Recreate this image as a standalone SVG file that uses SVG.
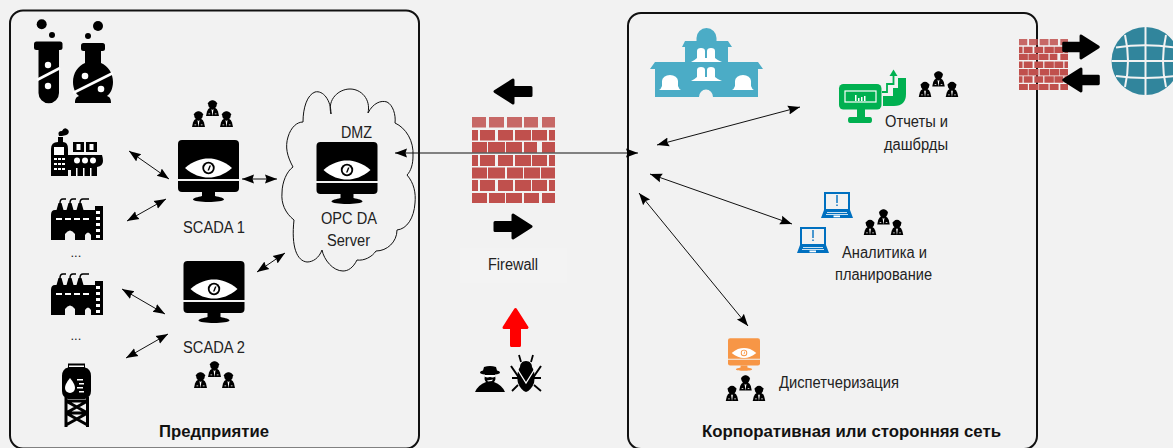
<svg xmlns="http://www.w3.org/2000/svg" width="1173" height="448" viewBox="0 0 1173 448">
<style>
text{font-family:"Liberation Sans",Arial,sans-serif;font-size:16px;fill:#222}
text.b{font-weight:bold;font-size:17px;fill:#111}
.panel{fill:#f2f2f2;stroke:#111;stroke-width:2}
.conn line{stroke:#111;stroke-width:1;marker-start:url(#h);marker-end:url(#h)}
.brick{fill:#c0504d}
.w{fill:#fff}
.ws{fill:none;stroke:#fff}
</style>
<defs>
<marker id="h" markerUnits="userSpaceOnUse" markerWidth="14" markerHeight="12" refX="12" refY="5" orient="auto-start-reverse" viewBox="0 0 14 10">
<path d="M0,0.500L12,5L0,9.500L1.500,5Z" fill="#000"/>
</marker>
<symbol id="monitor" viewBox="0 0 61 62" overflow="visible">
<path d="M4,0H57a4,4 0 0 1 4,4V39H0V4A4,4 0 0 1 4,0Z"/>
<path d="M0,41H61V48a4,4 0 0 1 -4,4H4a4,4 0 0 1 -4,-4Z"/>
<path d="M24,52H37V56C42,57 46,58 46,59.500C46,61 38,62 30.500,62C23,62 15,61 15,59.500C15,58 20,57 24,56Z"/>
<path class="w" d="M7,28C15,21 23,18.500 30.500,18.500C38,18.500 46,21 54,28C46,35 38,37.500 30.500,37.500C23,37.500 15,35 7,28Z"/>
<circle cx="30.500" cy="28" r="6.200"/><circle class="w" cx="30.500" cy="28" r="4.400"/>
<path d="M31.500,25.500L29.500,30.500L31,30.500L33,25.500Z"/>
</symbol>
<symbol id="person" viewBox="0 0 13 16" overflow="visible">
<circle cx="6.500" cy="4.500" r="4.300"/><path d="M1.800,3Q6.500,-1.300 11.200,3L11.200,4H1.800Z"/>
<path d="M0,16L1,11.500Q1.800,8.500 4.500,7.500H8.500Q11.200,8.500 12,11.500L13,16Z"/>
<path class="w" d="M5.500,9L6.500,16L7.500,9L6.500,10Z"/>
<path class="w" d="M2.500,13.500H4.200V14.300H2.500ZM8.800,13.500H10.500V14.300H8.800Z"/>
</symbol>
<symbol id="people" viewBox="0 0 41 27" overflow="visible">
<use href="#person" x="0" y="11" width="13" height="16"/>
<use href="#person" x="14" y="0" width="13" height="16"/>
<use href="#person" x="28" y="11" width="13" height="16"/>
</symbol>
<symbol id="wall" viewBox="0 0 83 86" overflow="visible">
<path class="brick" d="M0,0h14v10.500h-14zM17,0h15v10.500h-15zM35,0h15v10.500h-15zM52,0h14v10.500h-14zM70,0h13v10.500h-13z" opacity=".85"/>
<path class="brick" d="M0,13h6v10.500h-6zM8,13h15v10.500h-15zM26,13h15v10.500h-15zM43,13h16v10.500h-16zM60,13h15v10.500h-15zM77,13h6v10.500h-6z"/>
<path class="brick" d="M0,25h15v10.500h-15zM16,25h17v10.500h-17zM34,25h16v10.500h-16zM52,25h13v10.500h-13zM70,25h13v10.500h-13z"/>
<path class="brick" d="M0,38h6v11h-6zM8,38h15v11h-15zM26,38h15v11h-15zM43,38h16v11h-16zM60,38h15v11h-15zM77,38h6v11h-6z"/>
<path class="brick" d="M0,50.500h15v11h-15zM16,50.500h17v11h-17zM35,50.500h16v11h-16zM52,50.500h16v11h-16zM69,50.500h14v11h-14z"/>
<path class="brick" d="M0,63h6v11h-6zM8,63h15v11h-15zM26,63h15v11h-15zM43,63h16v11h-16zM60,63h15v11h-15zM77,63h6v11h-6z"/>
<path class="brick" d="M0,76h15v10h-15zM17,76h16v10h-16zM34,76h16v10h-16zM52,76h15v10h-15zM70,76h13v10h-13z"/>
</symbol>
<symbol id="fat" viewBox="0 0 40 27" overflow="visible">
<path d="M2,9.500H20V2L38,13.500L20,25V17.500H2Z" stroke="currentColor" stroke-width="3" stroke-linejoin="round" fill="currentColor"/>
</symbol>
<symbol id="plant" viewBox="0 0 52 42" overflow="visible">
<path d="M0,42V17Q0,12 4,12H5.500L7.500,5H10.500L12.500,12H15.500L17.500,5H20.500L22.500,12H25.500L27.500,5H30.500L32.500,12H44V8H52V42H40V37Q37,32 34,37V42H24V36Q19,29 14,36V42Z"/>
<path d="M9,5Q9,1 12,1H15M19,5Q19,1 22,1H25M29,5Q29,1 32,1H38" fill="none" stroke="#000" stroke-width="1.500"/>
<path d="M5,20H11V22H5ZM14,20H20V22H14ZM23,20H29V22H23ZM32,20H38V22H32Z" class="w"/>
<path class="w" d="M45,13h4v3h-4zM45,19h4v3h-4zM45,25h4v3h-4zM45,31h4v3h-4zM45,37h4v3h-4z"/>
</symbol>
<symbol id="laptop" viewBox="0 0 32 26" overflow="visible">
<path d="M4,1H28V18H4Z" fill="none" stroke="currentColor" stroke-width="2"/>
<path d="M3,18H29L32,26H0Z" fill="currentColor"/>
<path d="M6,20.500H26M5,22.500H27" stroke="#fff" stroke-width=".8"/>
<path d="M12.500,23.500H19V25.300H12.500Z" fill="#fff"/>
<path d="M15.300,3H16.700V11H15.300ZM15.300,12.500H16.700V14H15.300Z" fill="currentColor"/>
</symbol>
</defs>
<rect width="1173" height="448" fill="#f2f2f2"/>
<rect class="panel" x="10" y="10.500" width="409" height="438" rx="13"/>
<rect class="panel" x="628" y="13" width="409" height="436" rx="13"/>

<g id="lab">
<circle cx="41.700" cy="24.300" r="5"/><circle cx="52" cy="35" r="3"/>
<rect x="34" y="41.500" width="28.500" height="8.500" rx="2.500"/>
<path d="M38.500,48H59V93a10.250,10.250 0 0 1 -20.500,0Z"/>
<path class="ws" stroke-width="2.600" d="M37,80L60,68"/>
<circle class="w" cx="48" cy="65" r="3.200"/><circle class="w" cx="48" cy="86" r="3.200"/>
<circle cx="98" cy="26" r="5"/><circle cx="88" cy="36" r="3"/>
<rect x="81" y="43" width="24" height="8" rx="2.500"/>
<path d="M85,48H101V63C108,66 113,73 113,82C113,89 110,94 107,96C110,97 111,99 111,103H75C75,99 76,97 79,96C76,94 73,89 73,82C73,73 78,66 85,63Z"/>
<path class="ws" stroke-width="2.600" d="M73,93L113,73"/>
<circle class="w" cx="85" cy="76" r="3.300"/><circle class="w" cx="101" cy="89" r="3.300"/>
</g>

<g id="factory1">
<path d="M51,176V149Q51,142 58,142V137H63V142Q68,142 68,149V155H102Q103,158 103,161Q103,166 97,167V176H71V170H68V176Z"/>
<path d="M59,136Q57,131 62,131Q64,127 67,129Q70,131 68,134Q65,136 59,136Z"/>
<path d="M73,142H84V152H73ZM86,142H97V152H86Z"/>
<path class="w" d="M76.500,144H80.500V150H76.500ZM89.500,144H93.500V150H89.500Z"/>
<path class="w" d="M54,147H64V155H54Z"/>
<path class="w" d="M54,158h3v2h-3zM58,158h3v2h-3zM62,158h3v2h-3zM54,163h3v2h-3zM58,163h3v2h-3zM62,163h3v2h-3zM54,168h3v2h-3zM58,168h3v2h-3zM62,168h3v2h-3z"/>
<circle class="w" cx="77" cy="160.500" r="3"/><circle class="w" cx="85" cy="160.500" r="3"/><circle class="w" cx="93" cy="160.500" r="3"/>
<path class="w" d="M76,168h1.500v8h-1.500zM83,168h1.500v8h-1.500zM90,168h1.500v8h-1.500z"/>
</g>
<g id="factory2"><use href="#plant" x="51" y="198" width="52" height="42"/></g>
<text id="dots1" x="70.500" y="257" style="font-size:13px">...</text>
<g id="factory3"><use href="#plant" x="51" y="273" width="52" height="42"/></g>
<text id="dots2" x="70.500" y="340" style="font-size:13px">...</text>
<g id="tower">
<path d="M68,367.500V363.500H85V367.500Q91,369 91,376V391Q91,397 85,399H68Q62,397 62,391V376Q62,369 68,367.500Z"/>
<path class="w" d="M69,365.500H84V367H69Z"/>
<path class="w" d="M70,378Q75,384 75,388A5,5 0 0 1 65,388Q65,384 70,378Z"/>
<path class="w" d="M77,379h6v1.500h-6zM79,383h5v1.500h-5zM77,387h6v1.500h-6zM79,391h5v1.500h-5z"/>
<path d="M66,397V427M87.500,397V427M66,401H87.500M66,413H87.500M66,401L87.500,413M87.500,401L66,413M66,413L87.500,425M87.500,413L66,425" fill="none" stroke="#000" stroke-width="3"/>
</g>

<g id="scada1"><use href="#people" x="192" y="100" width="41" height="27"/><use href="#monitor" x="178" y="140" width="61" height="62"/><text x="183" y="233" textLength="62" lengthAdjust="spacingAndGlyphs">SCADA 1</text></g>
<g id="scada2"><use href="#monitor" x="183.500" y="261" width="61" height="62"/><text x="183" y="353" textLength="62" lengthAdjust="spacingAndGlyphs">SCADA 2</text><use href="#people" x="194" y="361" width="41" height="27"/></g>

<g id="dmz">
<path d="M331,114C327,99 339,89 350,89C361,89 371,99 368,113C373,103 381,100 387,102C393,105 396,115 395,123C406,128 414,141 413,156C413,164 411,171 407,175C414,183 416,193 415,203C414,218 407,229 397,230C397,242 387,251 376,251C372,257 364,261 357,260C353,268 348,271 343,271C333,271 324,260 322,250C319,258 313,262 307,262C297,261 291,247 294,220C285,213 281,203 282,193C282,182 287,171 293,167C287,156 285,147 288,137C291,127 297,122 303,122C303,108 307,95 315,92C323,90 331,100 331,114Z" fill="#f2f2f2" stroke="#111" stroke-width="1"/>
<text x="341" y="138" textLength="31" lengthAdjust="spacingAndGlyphs">DMZ</text>
<use href="#monitor" x="316.500" y="142" width="61" height="62"/>
<text x="321" y="224" textLength="56" lengthAdjust="spacingAndGlyphs">OPC DA</text>
<text x="327" y="246" textLength="43" lengthAdjust="spacingAndGlyphs">Server</text>
</g>

<g id="firewall">
<use href="#fat" x="493" y="78" width="40" height="27" color="#000" transform="rotate(180 513 91.500)"/>
<use href="#wall" x="472" y="117" width="83" height="86"/>
<use href="#fat" x="493" y="213" width="40" height="27" color="#000"/>
<rect x="460" y="248" width="107" height="35" fill="#f3f3f3"/>
<text x="488" y="270" textLength="50" lengthAdjust="spacingAndGlyphs">Firewall</text>
</g>

<g id="attacker">
<use href="#fat" x="495" y="314" width="41" height="27" color="#f00" transform="rotate(-90 515.500 327.500)"/>
<path d="M484,367Q490,365 496,367L497,370.500Q500,371 500,372.500Q500,374 495,374.500L495.500,379Q495,381 494,382Q502,385 505,392H475Q478,385 486,382Q485,381 484.500,379L485,374.500Q480,374 480,372.500Q480,371 483,370.500Z"/>
<path class="w" d="M484.500,375H495.500V376.500Q493,378 490,377Q487,378 484.500,376.500ZM487,380.500L493,379.500L492,381L488,381.500Z"/>
</g>
<g id="bug">
<path d="M521,362L519,355M531,362L533,355M512,378H520M532,378H541M518,385L512,391M534,385L541,391" fill="none" stroke="#000" stroke-width="1.800"/>
<path d="M526,361C530,361 532,364 532,367C535,371 535,378 534,383C532,388 529,391 526,392C523,391 520,388 518,383C517,378 517,371 520,367C520,364 522,361 526,361Z"/>
<path d="M511,366L526,388L541,366" fill="none" stroke="#000" stroke-width="2"/>
<path class="ws" stroke-width="1.300" d="M516,367L526,383L536,367"/>
</g>

<g id="hq" fill="#4bacc6">
<path d="M696.500,38a10,10 0 0 1 20,0V41H728L732,47H728V62H758L763,69H758V97H713A7,7.500 0 0 0 699,97H655V69H650L655,62H685V47H682L685,41H696.500Z"/>
<path class="w" d="M659,90Q661,89 662,86V81A8,6 0 0 1 678,81V86Q679,89 681,90ZM732,90Q734,89 735,86V81A8,6 0 0 1 751,81V86Q752,89 754,90Z"/>
<path class="w" d="M691,62Q695,60 697,58V51Q697,48 701,48Q705,48 705,51V58H707V51Q707,48 711,48Q715,48 715,51V58Q717,60 722,62Z"/>
<path class="w" d="M691,81Q695,79 697,77V70Q697,67 701,67Q705,67 705,70V77H707V70Q707,67 711,67Q715,67 715,70V77Q717,79 722,81Z"/>
</g>

<g id="reports" fill="#00b050">
<rect x="839" y="84" width="42.500" height="25.500" rx="4.500"/>
<rect x="845" y="91" width="31" height="11" fill="none" stroke="#fff" stroke-width="1.200"/>
<path class="w" d="M855,95h1.500v6h-1.500zM858,98h1.500v3h-1.500zM861,97h1.500v4h-1.500zM864,96h1.500v5h-1.500z"/>
<path d="M857,109H865V117H870Q872,117 872,120T870,123H850Q848,123 848,120T850,117H857Z"/>
<path d="M883,106V96H893V88H898V78H906V94Q906,106 894,106Z"/>
<path d="M882,92H887V84H893.500V74" fill="none" stroke="#00b050" stroke-width="1.800"/>
<path d="M893.500,69.500L897.500,76H889.500Z"/>
<use href="#people" x="918" y="71" width="41" height="26" fill="#000"/>
<text x="885" y="127" textLength="63" lengthAdjust="spacingAndGlyphs">Отчеты и</text>
<text x="884" y="150" textLength="64" lengthAdjust="spacingAndGlyphs">дашбрды</text>
</g>

<g id="analytics">
<use href="#laptop" x="821" y="192" width="32" height="26" color="#0070c0"/>
<use href="#laptop" x="797" y="227" width="32" height="26" color="#0070c0"/>
<use href="#people" x="863" y="209" width="41" height="26"/>
<text x="842" y="258" textLength="85" lengthAdjust="spacingAndGlyphs">Аналитика и</text>
<text x="835" y="280" textLength="97" lengthAdjust="spacingAndGlyphs">планирование</text>
</g>

<g id="dispatch">
<use href="#monitor" x="728" y="338" width="32" height="33" fill="#f79646"/>
<use href="#people" x="725" y="375" width="41" height="26"/>
<text x="779" y="388" textLength="120" lengthAdjust="spacingAndGlyphs">Диспетчеризация</text>
</g>

<g id="internet">
<use href="#wall" x="1019" y="39" width="49" height="51"/>
<use href="#fat" x="1061" y="34" width="40" height="26" color="#000"/>
<use href="#fat" x="1061" y="67" width="40" height="26" color="#000" transform="rotate(180 1081 80)"/>
<circle cx="1145.500" cy="61" r="34" fill="#31859c"/>
<g fill="none" stroke="#f2f2f2" stroke-width="2">
<path d="M1145.500,27V95M1111.500,61H1180"/>
<path d="M1116,47.500Q1145,43 1175,47.500M1116,76Q1145,80 1175,76"/>
<path d="M1125,35Q1131,61 1125,87M1166,35Q1160,61 1166,87"/>
</g>
</g>

<g id="labels">
<text class="b" x="159" y="437" textLength="110" lengthAdjust="spacingAndGlyphs">Предприятие</text>
<text class="b" x="702" y="437" textLength="299" lengthAdjust="spacingAndGlyphs">Корпоративная или сторонняя сеть</text>
</g>

<g class="conn" id="connectors">
<line x1="129" y1="151" x2="169" y2="179"/>
<line x1="127" y1="221" x2="166" y2="199"/>
<line x1="242" y1="179" x2="277" y2="179"/>
<line x1="257" y1="272" x2="285" y2="253"/>
<line x1="122" y1="289" x2="165" y2="314"/>
<line x1="126" y1="358" x2="168" y2="334"/>
<line x1="395" y1="153" x2="638" y2="153"/>
<line x1="657" y1="145" x2="800" y2="107"/>
<line x1="650" y1="174" x2="792" y2="224"/>
<line x1="639" y1="193" x2="748" y2="326"/>
</g>
</svg>
